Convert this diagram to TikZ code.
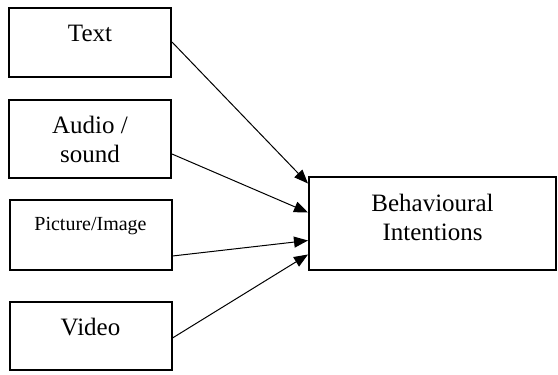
\documentclass[tikz,border=0pt]{standalone}
\usepackage{fontspec}
\setmainfont{Liberation Serif}
\usetikzlibrary{arrows.meta}

\begin{document}
\begin{tikzpicture}[->,>={Triangle[length=14pt,width=11pt]},line width=1pt,
        x=1pt,y=-1pt,
        box/.style={draw,line width=2pt,inner sep=0pt,minimum width=162pt,
          align=center,font=\fontsize{25pt}{29pt}\selectfont}]

  \useasboundingbox (0,0) rectangle (558,375);

  \node[box,minimum height=69pt,text depth=17pt] (txt) at (90,42) {Text};
  \node[box,minimum height=78pt,text depth=0pt] (aud) at (90,139) {Audio /\\sound};
  \node[box,minimum height=70pt,text depth=22pt,
        font=\fontsize{20pt}{24pt}\selectfont] (pic) at (90.5,235) {Picture/Image};
  \node[box,minimum height=68pt,text depth=19pt] (vid) at (90.5,336) {Video};
  \node[box,minimum width=247pt,minimum height=93pt,text depth=13pt]
        (beh) at (432.5,223.5) {Behavioural\\Intentions};

  \path (txt.east) edge ([yshift=40pt]beh.west)
        ([yshift=-15pt]aud.east) edge ([yshift=11pt]beh.west)
        ([yshift=-21pt]pic.east) edge ([yshift=-17pt]beh.west)
        ([yshift=-2pt]vid.east) edge ([yshift=-31pt]beh.west);

\end{tikzpicture}
\end{document}
